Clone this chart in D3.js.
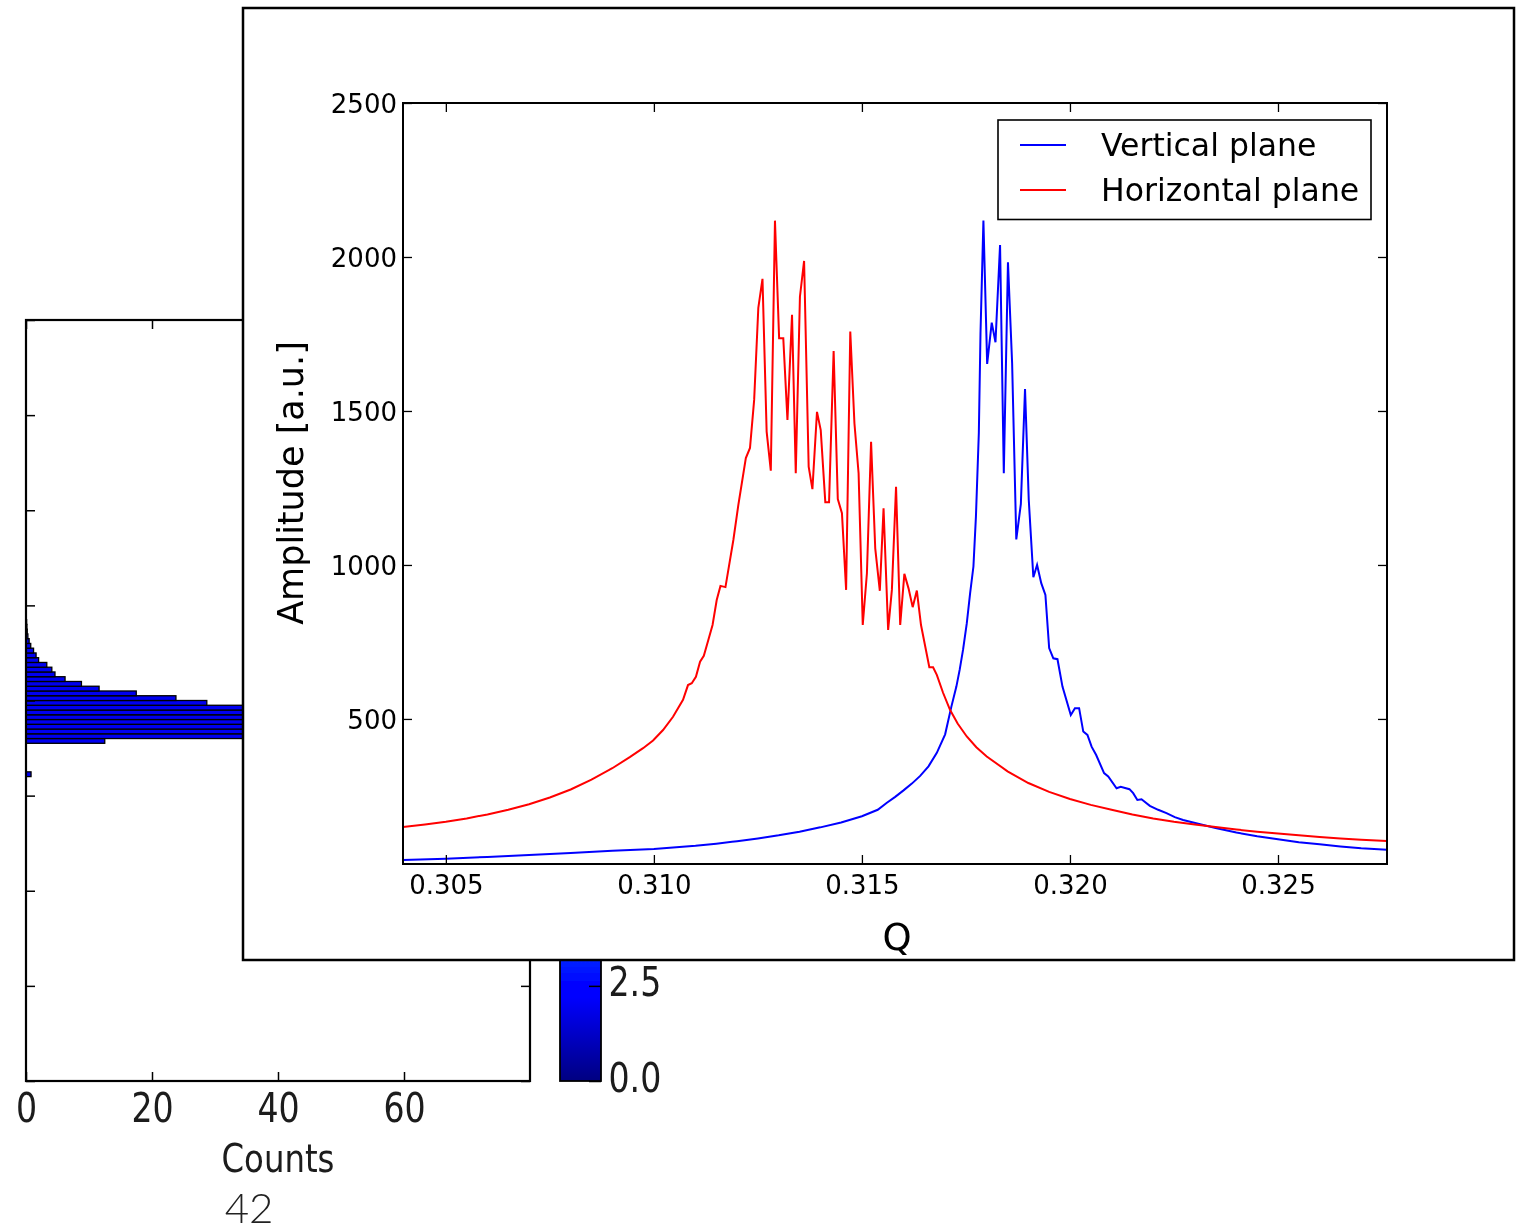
<!DOCTYPE html>
<html>
<head>
<meta charset="utf-8">
<script src="https://cdn.jsdelivr.net/npm/d3@7"></script>
<style>
  html, body { margin: 0; padding: 0; background: #fff; }
  svg { display: block; }
</style>
</head>
<body>
<svg id="chart" width="1522" height="1232"></svg>
<script>
// ---------------- Tune spectrum: Horizontal plane ----------------
const qH = [
  0.30397, 0.30450, 0.30500, 0.30550, 0.30600, 0.30650, 0.30700, 0.30750, 0.30800, 0.30850,
  0.30900, 0.30942, 0.30974, 0.30998, 0.31022, 0.31046, 0.31070,
  0.31082, 0.31091, 0.31101, 0.31111, 0.31120, 0.31131, 0.31141, 0.31151, 0.31160, 0.31172,
  0.31191, 0.31203, 0.31221, 0.31231, 0.31241, 0.31251, 0.31261, 0.31271, 0.31281, 0.31291,
  0.31301, 0.31311, 0.31321, 0.31332, 0.31341, 0.31351, 0.31361, 0.31372, 0.31381, 0.31392,
  0.31401, 0.31412, 0.31421, 0.31432, 0.31442, 0.31452, 0.31462, 0.31472, 0.31482, 0.31492,
  0.31502, 0.31512, 0.31522, 0.31532, 0.31543, 0.31552, 0.31563, 0.31572, 0.31582, 0.31592,
  0.31602, 0.31612, 0.31622, 0.31632, 0.31642, 0.31662, 0.31671, 0.31680, 0.31695, 0.31712,
  0.31730, 0.31752, 0.31775, 0.31800, 0.31850, 0.31900, 0.31950, 0.32000, 0.32050, 0.32100,
  0.32150, 0.32200, 0.32250, 0.32300, 0.32350, 0.32400, 0.32450, 0.32500, 0.32550, 0.32600,
  0.32650, 0.32700, 0.32762
];
const ampH = [
  149, 157, 166, 177, 190, 205, 223, 245, 271, 303,
  340, 376, 405, 430, 464, 507, 562,
  610, 616, 637, 686, 705, 757, 805, 886, 932, 928,
  1081, 1195, 1347, 1380, 1536, 1835, 1929, 1433, 1306, 2118,
  1736, 1736, 1471, 1812, 1298, 1871, 1987, 1319, 1246, 1497,
  1438, 1204, 1204, 1695, 1214, 1168, 919, 1758, 1460, 1298,
  805, 973, 1400, 1054, 916, 1184, 789, 919, 1254, 805,
  971, 924, 863, 917, 805, 668, 668, 643, 585, 529,
  485, 443, 408, 378, 330, 292, 263, 240, 221, 205,
  190, 177, 166, 157, 149, 141, 134, 128, 122, 117,
  112, 108, 104
];

// ---------------- Tune spectrum: Vertical plane ----------------
const qV = [
  0.30397, 0.30500, 0.30600, 0.30700, 0.30800, 0.30900, 0.31000, 0.31100, 0.31150, 0.31200,
  0.31250, 0.31300, 0.31350, 0.31400, 0.31450, 0.31500, 0.31538, 0.31560, 0.31580, 0.31600,
  0.31620, 0.31640, 0.31660, 0.31680, 0.31700, 0.31715, 0.31727, 0.31735, 0.31743, 0.31752,
  0.31760, 0.31768, 0.31774, 0.31781, 0.31785, 0.31792, 0.31801,
  0.31812, 0.31821, 0.31832, 0.31841, 0.31851, 0.31861, 0.31871, 0.31882, 0.31892, 0.31901,
  0.31912, 0.31921, 0.31931, 0.31941, 0.31950, 0.31960, 0.31970, 0.31982, 0.32002, 0.32012,
  0.32022, 0.32032, 0.32042, 0.32052, 0.32063, 0.32082, 0.32092, 0.32112, 0.32122, 0.32143,
  0.32152, 0.32162, 0.32172, 0.32192, 0.32212, 0.32232, 0.32252, 0.32272, 0.32313, 0.32350,
  0.32400, 0.32450, 0.32500, 0.32550, 0.32600, 0.32650, 0.32700, 0.32762
];
const ampV = [
  42, 46, 52, 58, 65, 72, 78, 88, 95, 103,
  112, 122, 134, 148, 164, 184, 205, 228, 247, 268,
  290, 315, 346, 390, 450, 540, 605, 660, 724, 810,
  908, 995, 1157, 1429, 1753, 2118, 1653,
  1787, 1723, 2039, 1298, 1983, 1655, 1083, 1198, 1571, 1211,
  960, 1000, 941, 903, 730, 697, 694, 605, 513, 535,
  535, 459, 448, 410, 383, 324, 313, 275, 280, 272,
  259, 237, 239, 218, 205, 194, 181, 172, 158, 146,
  131, 119, 109, 100, 93, 86, 80, 75
];

const seriesNames = ["Vertical plane", "Horizontal plane"];
const seriesColors = ["#0000ff", "#ff0000"];
const qTicks = [0.305, 0.310, 0.315, 0.320, 0.325];
const ampTicks = [500, 1000, 1500, 2000, 2500];

// ---------------- Background figure: counts histogram + colour bar ----------------
const histBinLo = [64, 71, 72, 73, 74, 75, 76, 77, 78, 79, 80, 81, 82, 83, 84, 85,
                   86, 87, 88, 89, 90, 91, 92, 93, 94, 95, 96];
const histCounts = [0.8, 12.5, 46, 62, 75, 70, 58, 44, 36, 28.7, 23.8, 17.5, 11.6, 8.8, 6.2, 4.6,
                    4.1, 3.3, 2.0, 1.6, 1.2, 0.75, 0.5, 0.3, 0.2, 0.15, 0.1];
const countTicks = [0, 20, 40, 60];
const histYTicks = [0, 20, 40, 60, 80, 100, 120, 140, 160];
const cbarTicks = [0.0, 2.5];
const pageNumber = "42";

const svg = d3.select("#chart");
const defs = svg.append("defs");

defs.append("filter").attr("id", "soft")
  .attr("x", "-5%").attr("y", "-5%").attr("width", "110%").attr("height", "110%")
  .append("feGaussianBlur").attr("stdDeviation", 0.7);

// jet colormap
const cbarScale = d3.scaleLinear([0, 20], [1081, 320]);
const jetStops = [
  [0.0, "#000080"], [0.11, "#0000ff"], [0.125, "#0000ff"], [0.34, "#00dcff"],
  [0.375, "#00ffff"], [0.64, "#ffff00"], [0.91, "#ff0000"], [1.0, "#800000"]
];
const grad = defs.append("linearGradient").attr("id", "jet")
  .attr("x1", 0).attr("y1", 1).attr("x2", 0).attr("y2", 0);
jetStops.forEach(([o, c]) => grad.append("stop").attr("offset", o).attr("stop-color", c));

const bg = svg.append("g").attr("filter", "url(#soft)");
const xC = d3.scaleLinear([0, 80], [26, 530]);
const yC = d3.scaleLinear([0, 160], [1081, 320]);
const condensed = "scale(0.83,1)";
const bgFont = "DejaVu Sans, sans-serif";

// bars
bg.append("g").selectAll("rect")
  .data(d3.zip(histBinLo, histCounts))
  .join("rect")
  .attr("x", xC(0))
  .attr("y", d => yC(d[0] + 1))
  .attr("width", d => xC(d[1]) - xC(0))
  .attr("height", d => yC(d[0]) - yC(d[0] + 1))
  .attr("fill", "#0000f0")
  .attr("stroke", "#000")
  .attr("stroke-width", 1.3);

// ticks on all sides, pointing inward
const axB = bg.append("g").attr("transform", `translate(0,${yC(0)})`)
  .call(d3.axisBottom(xC).tickValues(countTicks).tickSize(-9).tickSizeOuter(0).tickPadding(13));
axB.selectAll("text").attr("font-size", 40).attr("font-family", bgFont)
  .attr("fill", "#1a1a1a").attr("transform", condensed);
bg.append("g").attr("transform", `translate(0,${yC(160)})`)
  .call(d3.axisTop(xC).tickValues(countTicks).tickSize(-9).tickSizeOuter(0).tickFormat(""));
bg.append("g").attr("transform", `translate(${xC(0)},0)`)
  .call(d3.axisLeft(yC).tickValues(histYTicks).tickSize(-9).tickSizeOuter(0).tickFormat(""));
bg.append("g").attr("transform", `translate(${xC(80)},0)`)
  .call(d3.axisRight(yC).tickValues(histYTicks).tickSize(-9).tickSizeOuter(0).tickFormat(""));
bg.selectAll(".domain").remove();
bg.selectAll(".tick line").attr("stroke", "#000").attr("stroke-width", 1.5);

bg.append("rect")
  .attr("x", xC(0)).attr("y", yC(160))
  .attr("width", xC(80) - xC(0)).attr("height", yC(0) - yC(160))
  .attr("fill", "none").attr("stroke", "#000").attr("stroke-width", 2.2);

bg.append("text")
  .attr("transform", `translate(${(xC(0) + xC(80)) / 2},1172) ${condensed}`)
  .attr("text-anchor", "middle")
  .attr("font-size", 39).attr("font-family", bgFont).attr("fill", "#1a1a1a")
  .text("Counts");

// colour bar
bg.append("rect")
  .attr("x", 560).attr("y", cbarScale(20))
  .attr("width", 41).attr("height", cbarScale(0) - cbarScale(20))
  .attr("fill", "url(#jet)").attr("stroke", "#000").attr("stroke-width", 1.8);
const cbAx = bg.append("g").attr("transform", "translate(601,0)")
  .call(d3.axisRight(cbarScale).tickValues(cbarTicks).tickSize(-12).tickSizeOuter(0)
    .tickFormat(d3.format(".1f")).tickPadding(9));
cbAx.select(".domain").remove();
cbAx.selectAll(".tick line").attr("stroke", "#000").attr("stroke-width", 1.5);
cbAx.selectAll("text").attr("font-size", 40).attr("font-family", bgFont)
  .attr("fill", "#1a1a1a").attr("transform", condensed).attr("dy", "0.25em");

// page number
svg.append("text")
  .attr("x", 249).attr("y", 1223)
  .attr("text-anchor", "middle")
  .attr("font-size", 42).attr("font-weight", 300)
  .attr("font-family", "Lato, Roboto, 'Open Sans', sans-serif")
  .attr("fill", "#222")
  .text(pageNumber);

// ---------------- Inset: amplitude vs tune ----------------
const box = { x: 243, y: 8, w: 1271, h: 952 };
const plot = { left: 403, right: 1387, top: 103, bottom: 864 };
const font = "DejaVu Sans, sans-serif";

defs.append("clipPath").attr("id", "boxclip")
  .append("rect").attr("x", box.x).attr("y", box.y).attr("width", box.w).attr("height", box.h);
defs.append("clipPath").attr("id", "plotclip")
  .append("rect").attr("x", plot.left).attr("y", plot.top)
  .attr("width", plot.right - plot.left).attr("height", plot.bottom - plot.top);

svg.append("rect")
  .attr("x", box.x).attr("y", box.y).attr("width", box.w).attr("height", box.h)
  .attr("fill", "#fff");

const inset = svg.append("g").attr("clip-path", "url(#boxclip)");

const x = d3.scaleLinear([0.30397, 0.32762], [plot.left, plot.right]);
const y = d3.scaleLinear([29, 2500], [plot.bottom, plot.top]);

const line = d3.line().x(d => x(d[0])).y(d => y(d[1]));
const lines = inset.append("g").attr("clip-path", "url(#plotclip)");
const seriesData = [d3.zip(qV, ampV), d3.zip(qH, ampH)];
seriesData.forEach((pts, i) => {
  lines.append("path")
    .datum(pts)
    .attr("d", line)
    .attr("fill", "none")
    .attr("stroke", seriesColors[i])
    .attr("stroke-width", 2)
    .attr("stroke-linejoin", "miter");
});

// axes with inward ticks on every side
inset.append("g").attr("transform", `translate(0,${plot.bottom})`)
  .call(d3.axisBottom(x).tickValues(qTicks).tickFormat(d3.format(".3f"))
    .tickSize(-9).tickSizeOuter(0).tickPadding(12));
const axLeft = inset.append("g").attr("transform", `translate(${plot.left},0)`)
  .call(d3.axisLeft(y).tickValues(ampTicks).tickFormat(d3.format("d"))
    .tickSize(-9).tickSizeOuter(0).tickPadding(6));
inset.append("g").attr("transform", `translate(0,${plot.top})`)
  .call(d3.axisTop(x).tickValues(qTicks).tickSize(-9).tickSizeOuter(0).tickFormat(""));
inset.append("g").attr("transform", `translate(${plot.right},0)`)
  .call(d3.axisRight(y).tickValues(ampTicks).tickSize(-9).tickSizeOuter(0).tickFormat(""));
inset.selectAll(".domain").remove();
inset.selectAll(".tick line").attr("stroke", "#000").attr("stroke-width", 1.3);
inset.selectAll(".tick text").attr("font-size", 26).attr("font-family", font).attr("fill", "#000");
axLeft.selectAll(".tick text").attr("dy", "0.36em");

inset.append("rect")
  .attr("x", plot.left).attr("y", plot.top)
  .attr("width", plot.right - plot.left).attr("height", plot.bottom - plot.top)
  .attr("fill", "none").attr("stroke", "#000").attr("stroke-width", 2);

// axis titles
inset.append("text")
  .attr("transform", "translate(303,483) rotate(-90)")
  .attr("text-anchor", "middle")
  .attr("font-size", 35).attr("font-family", font)
  .text("Amplitude [a.u.]");
inset.append("text")
  .attr("x", (plot.left + plot.right) / 2 + 2).attr("y", 950)
  .attr("text-anchor", "middle")
  .attr("font-size", 37).attr("font-family", font)
  .text("Q");

// legend
const lg = inset.append("g");
lg.append("rect")
  .attr("x", 998).attr("y", 120).attr("width", 373).attr("height", 99.5)
  .attr("fill", "#fff").attr("stroke", "#000").attr("stroke-width", 1.6);
const legendRows = [145, 190];
seriesNames.forEach((name, i) => {
  lg.append("line")
    .attr("x1", 1020).attr("x2", 1066)
    .attr("y1", legendRows[i]).attr("y2", legendRows[i])
    .attr("stroke", seriesColors[i]).attr("stroke-width", 2);
  lg.append("text")
    .attr("x", 1101).attr("y", legendRows[i] + 10.5)
    .attr("font-size", 31.5).attr("font-family", font)
    .text(name);
});

// inset frame
svg.append("rect")
  .attr("x", box.x).attr("y", box.y).attr("width", box.w).attr("height", box.h)
  .attr("fill", "none").attr("stroke", "#000").attr("stroke-width", 2.5);
</script>
</body>
</html>
